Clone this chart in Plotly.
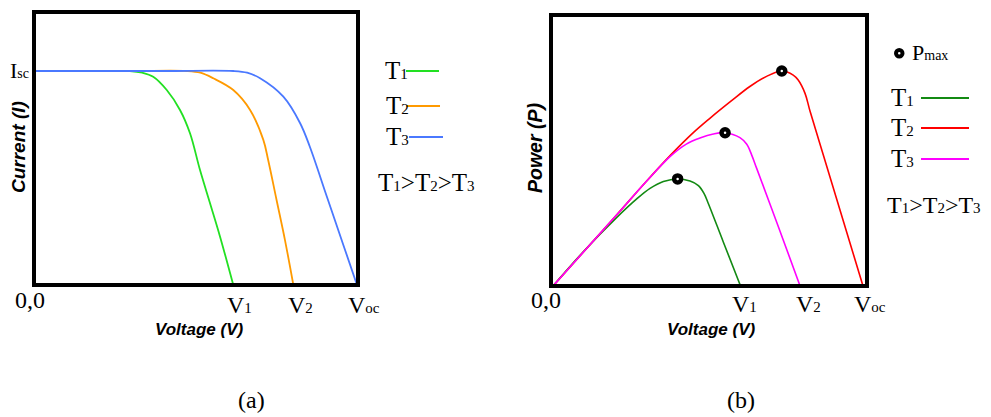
import plotly.graph_objects as go

# ---------------- I-V characteristics (normalised: V / Voc, I / Isc) ----------------
iv_v_t1 = [0.0, 0.20, 0.297, 0.335, 0.369, 0.411, 0.452, 0.483, 0.514, 0.545, 0.576, 0.617]
iv_i_t1 = [1.0, 1.0, 1.0, 0.992, 0.973, 0.911, 0.818, 0.709, 0.537, 0.382, 0.226, 0.0]

iv_v_t2 = [0.0, 0.30, 0.473, 0.515, 0.555, 0.617, 0.669, 0.710, 0.725, 0.751, 0.777, 0.803]
iv_i_t2 = [1.0, 1.0, 1.0, 0.992, 0.966, 0.911, 0.818, 0.678, 0.584, 0.397, 0.210, 0.0]

iv_v_t3 = [0.0, 0.40, 0.617, 0.660, 0.700, 0.772, 0.824, 0.854, 0.906, 0.958, 1.0]
iv_i_t3 = [1.0, 1.0, 1.0, 0.992, 0.966, 0.880, 0.756, 0.646, 0.416, 0.186, 0.0]

# ---------------- P-V characteristics (normalised: V / Voc, P / Pmax of T2) ----------------
pv_v_t1 = [0.0, 0.10, 0.205, 0.270, 0.313, 0.356, 0.402, 0.442, 0.469, 0.487, 0.501, 0.549, 0.605]
pv_p_t1 = [0.0, 0.163, 0.318, 0.405, 0.454, 0.486, 0.498, 0.488, 0.467, 0.431, 0.384, 0.206, 0.0]

pv_v_t2 = [0.0, 0.205, 0.30, 0.38, 0.45, 0.506, 0.576, 0.635, 0.689, 0.738, 0.775,
           0.791, 0.813, 0.829, 0.872, 0.926, 0.969, 1.0]
pv_p_t2 = [0.0, 0.330, 0.485, 0.610, 0.710, 0.780, 0.862, 0.928, 0.975, 1.0, 0.981,
           0.958, 0.896, 0.814, 0.609, 0.352, 0.148, 0.0]

pv_v_t3 = [0.0, 0.205, 0.30, 0.38, 0.43, 0.474, 0.517, 0.555, 0.603, 0.625, 0.641, 0.657, 0.727, 0.797]
pv_p_t3 = [0.0, 0.330, 0.485, 0.605, 0.660, 0.688, 0.707, 0.713, 0.690, 0.659, 0.609, 0.547, 0.276, 0.0]

# ---------------- Labels ----------------
series_names = ["T1", "T2", "T3"]
iv_colors = ["#22e022", "#ff9a00", "#4a78ff"]
pv_colors = ["#138a13", "#ff0000", "#ff00ff"]
voltage_tick_text = ["V<span style='font-size:15px'>1</span>",
                     "V<span style='font-size:15px'>2</span>",
                     "V<span style='font-size:15px'>oc</span>"]
order_text = ("T<span style='font-size:15px'>1</span>&gt;T<span style='font-size:15px'>2</span>"
              "&gt;T<span style='font-size:15px'>3</span>")

W, H = 991, 417
SERIF = "Liberation Serif"
SANS = "Liberation Sans"


def fx(x):
    return x / W


def fy(y):
    return 1 - y / H


fig = go.Figure()

iv_sets = [(iv_v_t1, iv_i_t1), (iv_v_t2, iv_i_t2), (iv_v_t3, iv_i_t3)]
pv_sets = [(pv_v_t1, pv_p_t1), (pv_v_t2, pv_p_t2), (pv_v_t3, pv_p_t3)]

for (v, i), name, col in zip(iv_sets, series_names, iv_colors):
    fig.add_trace(go.Scatter(x=v, y=i, mode="lines", name=name,
                             line=dict(color=col, width=1.8, shape="spline", smoothing=1.0),
                             xaxis="x", yaxis="y", showlegend=False))

for (v, p), name, col in zip(pv_sets, series_names, pv_colors):
    fig.add_trace(go.Scatter(x=v, y=p, mode="lines", name=name,
                             line=dict(color=col, width=1.6, shape="spline", smoothing=1.0),
                             xaxis="x2", yaxis="y2", showlegend=False))

# maximum power points
mpp_v, mpp_p = [], []
for v, p in pv_sets:
    k = p.index(max(p))
    mpp_v.append(v[k])
    mpp_p.append(p[k])
fig.add_trace(go.Scatter(x=mpp_v, y=mpp_p, mode="markers", xaxis="x2", yaxis="y2",
                         marker=dict(symbol="circle", size=7, color="white",
                                     line=dict(color="black", width=4.5)),
                         showlegend=False))

axis_off = dict(showgrid=False, zeroline=False, showline=False, showticklabels=False,
                ticks="", fixedrange=True)

fig.update_layout(
    width=W, height=H,
    margin=dict(l=0, r=0, t=0, b=0),
    paper_bgcolor="white", plot_bgcolor="white",
    xaxis=dict(domain=[fx(34), fx(358)], range=[0, 1.0031], **axis_off),
    yaxis=dict(domain=[fy(285), fy(12)], range=[0, 1.2757], **axis_off),
    xaxis2=dict(domain=[fx(551), fx(867)], range=[-0.0065, 1.0129], anchor="y2", **axis_off),
    yaxis2=dict(domain=[fy(286), fy(15)], range=[0, 1.2605], anchor="x2", **axis_off),
)

shapes = []
# frames of both panels
for xr, yr in (("x domain", "y domain"), ("x2 domain", "y2 domain")):
    shapes.append(dict(type="rect", xref=xr, yref=yr, x0=0, x1=1, y0=0, y1=1,
                       line=dict(color="black", width=4), layer="above"))

annotations = []


def text(x, y, s, size, family=SERIF, xanchor="center", yanchor="middle", **kw):
    annotations.append(dict(x=fx(x), y=fy(y), xref="paper", yref="paper", text=s,
                            showarrow=False, xanchor=xanchor, yanchor=yanchor,
                            font=dict(family=family, size=size, color="black", **kw)))


def voltage_ticks(sets, xref, ypix, shifts):
    # open-circuit voltages of the curves, labelled from left to right
    ends = sorted(v[-1] for v, _ in sets)
    for x, lab, sh in zip(ends, voltage_tick_text, shifts):
        annotations.append(dict(x=x, y=fy(ypix), xref=xref, yref="paper", text=lab,
                                showarrow=False, xanchor="center", yanchor="middle", xshift=sh,
                                font=dict(family=SERIF, size=24, color="black")))


# ---- panel (a) ----
text(31, 70, "I<span style='font-size:14px'>sc</span>", 22, xanchor="right")
text(47, 300, "0,0", 24, xanchor="right")
voltage_ticks(iv_sets, "x", 305, [6, 7, 7])
text(18, 147, "Current (I)", 19, family=SANS, weight="bold", style="italic")
annotations[-1]["textangle"] = -90
text(199, 329, "Voltage (V)", 17, family=SANS, weight="bold", style="italic")
text(251, 400, "(a)", 24)

iv_leg = [(383, 406, 439, 71), (384, 406, 440, 106), (384, 409, 443, 137)]
for (tx, l0, l1, ly), name, col in zip(iv_leg, series_names, iv_colors):
    text(tx, ly - 1, "T<span style='font-size:15px'>%s</span>" % name[1], 25, xanchor="left")
    shapes.append(dict(type="line", xref="paper", yref="paper", x0=fx(l0), x1=fx(l1),
                       y0=fy(ly), y1=fy(ly), line=dict(color=col, width=2)))
text(376, 183, order_text, 25, xanchor="left")

# ---- panel (b) ----
text(563, 300, "0,0", 24, xanchor="right")
voltage_ticks(pv_sets, "x2", 304, [4, 8, 7])
text(535, 148, "Power (P)", 19.5, family=SANS, weight="bold", style="italic")
annotations[-1]["textangle"] = -90
text(711, 329, "Voltage (V)", 17, family=SANS, weight="bold", style="italic")
text(741, 400, "(b)", 24)

shapes.append(dict(type="circle", xref="paper", yref="paper",
                   x0=fx(896), x1=fx(902.5), y0=fy(50), y1=fy(56.5),
                   line=dict(color="black", width=4), fillcolor="white"))
text(910, 53, "P<span style='font-size:14px'>max</span>", 22, xanchor="left")

pv_leg = [(889, 921, 969, 98), (889, 921, 969, 128), (889, 921, 969, 159)]
for (tx, l0, l1, ly), name, col in zip(pv_leg, series_names, pv_colors):
    text(tx, ly - 1, "T<span style='font-size:15px'>%s</span>" % name[1], 25, xanchor="left")
    shapes.append(dict(type="line", xref="paper", yref="paper", x0=fx(l0), x1=fx(l1),
                       y0=fy(ly), y1=fy(ly), line=dict(color=col, width=2)))
text(885, 205, order_text, 24, xanchor="left")

fig.update_layout(shapes=shapes, annotations=annotations)

fig.write_html("out.html")
